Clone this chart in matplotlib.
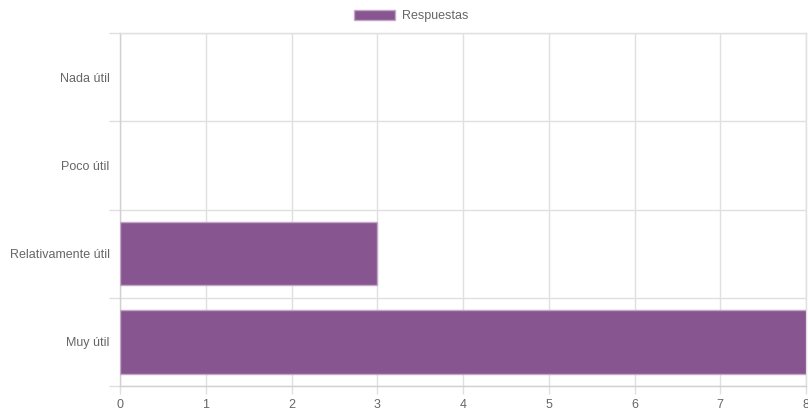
import matplotlib
matplotlib.use("Agg")
import matplotlib.pyplot as plt
from matplotlib.patches import Patch
import numpy as np

plt.rcParams["font.family"] = ["Liberation Sans", "DejaVu Sans"]

categories = ["Nada útil", "Poco útil", "Relativamente útil", "Muy útil"]
values = [0, 0, 3, 8]
series_name = "Respuestas"
x_ticks = [0, 1, 2, 3, 4, 5, 6, 7, 8]

W, H = 808, 409
fig = plt.figure(figsize=(W / 100, H / 100), dpi=100)
left, right, top, bottom = 120, 806, 33, 386
ax = fig.add_axes([left / W, 1 - bottom / H, (right - left) / W, (bottom - top) / H])

bar_color = "#87558f"
edge_color = "#c4a6c9"
grid_color = "#e0e0e0"
text_color = "#666666"

ypos = np.arange(len(categories))
lws = [1 if v > 0 else 0 for v in values]
ax.barh(ypos, values, height=0.72, color=bar_color, edgecolor=edge_color, linewidth=lws, zorder=3)

ax.set_xlim(0, 8)
ax.set_ylim(len(categories) - 0.5, -0.5)
ax.set_xticks(x_ticks)
ax.set_xticklabels([str(t) for t in x_ticks])
ax.set_yticks(ypos)
ax.set_yticklabels(categories)
ax.set_yticks(np.arange(-0.5, len(categories), 1), minor=True)

ax.tick_params(axis="y", which="major", length=0, pad=7.5, labelsize=9, labelcolor=text_color)
ax.tick_params(axis="y", which="minor", length=8, color=grid_color, width=1)
ax.tick_params(axis="x", which="major", length=6, color=grid_color, width=1, pad=3,
               labelsize=9, labelcolor=text_color)

ax.grid(True, axis="x", which="major", color=grid_color, linewidth=1, zorder=0)
ax.grid(True, axis="y", which="minor", color=grid_color, linewidth=1, zorder=0)
ax.set_axisbelow(True)
for s in ax.spines.values():
    s.set_color(grid_color)
    s.set_linewidth(1)
ax.spines["left"].set_color("#d0d0d0")
ax.spines["bottom"].set_color("#d0d0d0")

handles = [Patch(facecolor=bar_color, edgecolor=edge_color, label=series_name)]
fig.legend(handles=handles, loc="center", bbox_to_anchor=(411 / W, 1 - 16 / H),
           frameon=False, fontsize=9, handlelength=3.3, handleheight=0.9,
           handletextpad=0.5, labelcolor=text_color)

fig.savefig("out.png", dpi=100)
